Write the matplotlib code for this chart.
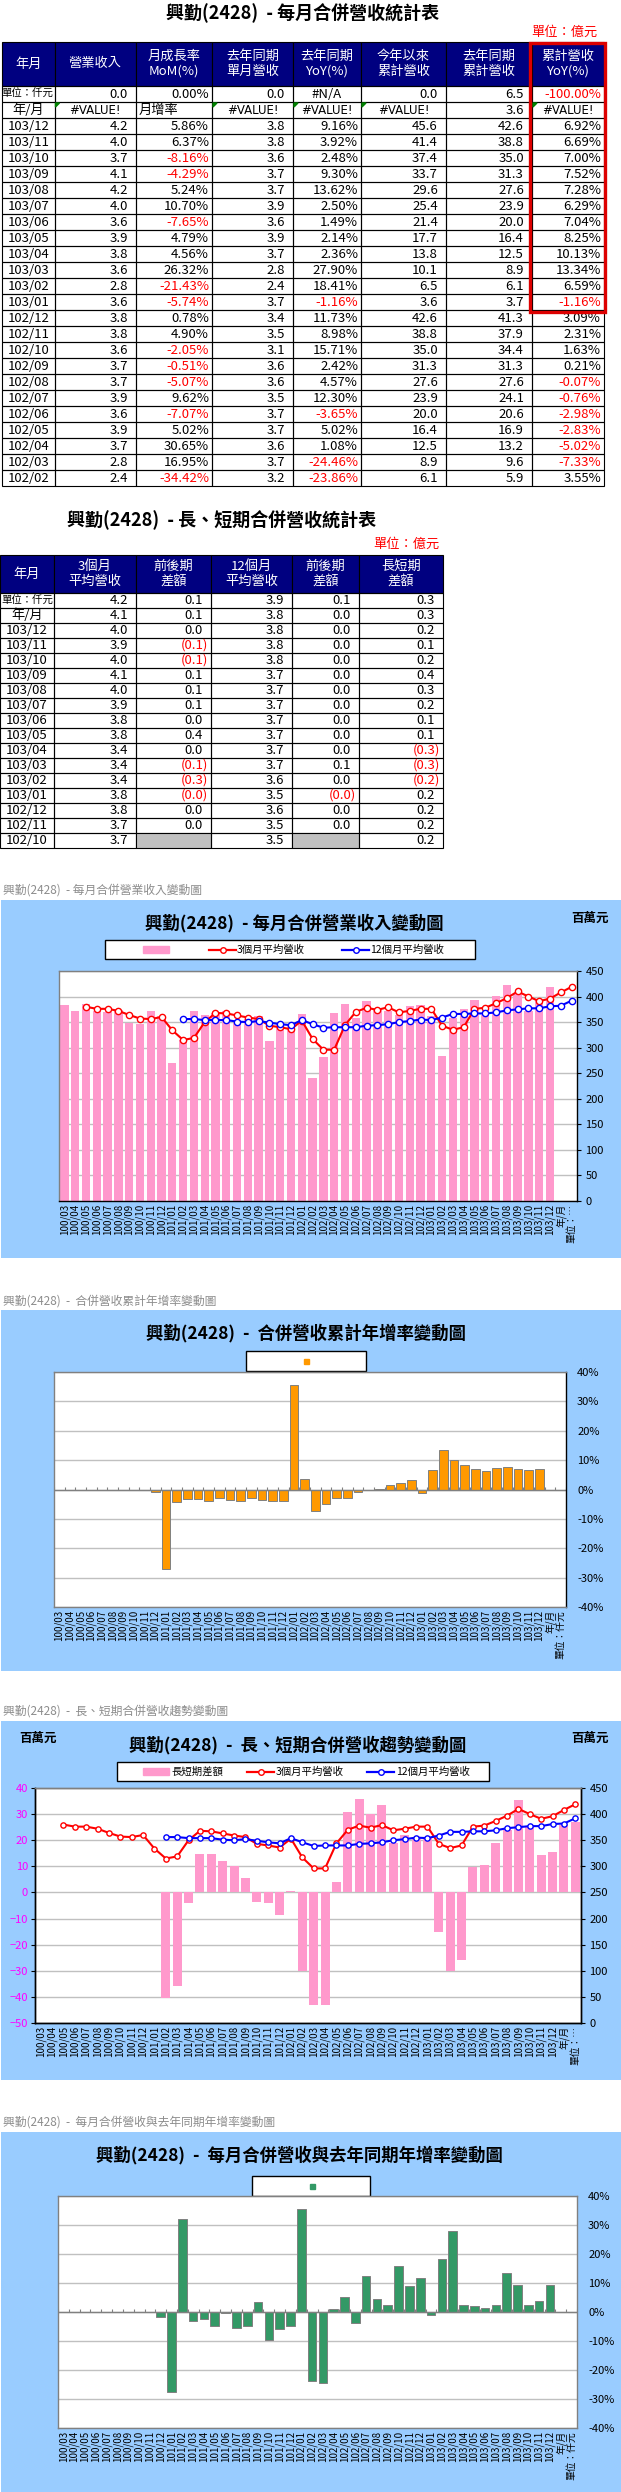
import matplotlib.pyplot as plt
from matplotlib.patches import Rectangle, Polygon
import numpy as np

plt.rcParams['font.family'] = ['Noto Sans CJK TC', 'DejaVu Sans']

# ---------------- data ----------------
months = ('100/03 100/04 100/05 100/06 100/07 100/08 100/09 100/10 100/11 100/12 '
          '101/01 101/02 101/03 101/04 101/05 101/06 101/07 101/08 101/09 101/10 101/11 101/12 '
          '102/01 102/02 102/03 102/04 102/05 102/06 102/07 102/08 102/09 102/10 102/11 102/12 '
          '103/01 103/02 103/03 103/04 103/05 103/06 103/07 103/08 103/09 103/10 103/11 103/12').split()

# monthly revenue (百萬元), 100/03 .. 103/12
revenue = [383, 371, 385, 372, 370, 374, 349, 347, 371, 361,
           270, 315, 372, 363, 367, 372, 349, 356, 362, 314, 349, 344,
           366, 240, 281, 367, 385, 358, 392, 373, 371, 363, 381, 384,
           362, 284, 359, 376, 394, 363, 402, 423, 405, 372, 396, 419]

# 3 / 12 month averages (48 categories incl. 年/月 and 單位)
avg3 = [None, None, 380, 376, 376, 372, 364, 357, 356, 360,
        334, 315, 319, 350, 368, 367, 363, 359, 356, 343, 340, 336,
        353, 317, 296, 296, 344, 370, 378, 374, 379, 369, 372, 376,
        376, 343, 335, 340, 376, 378, 387, 397, 410, 400, 391, 396, 408, 419]
avg12 = [None, None, None, None, None, None, None, None, None, None,
         None, 356, 356, 354, 354, 354, 351, 350, 352, 349, 346, 344,
         354, 346, 339, 340, 340, 340, 343, 344, 346, 350, 352, 355,
         354, 359, 366, 366, 367, 367, 369, 373, 375, 377, 377, 381, 382, 392]
long_short = [None, None, None, None, None, None, None, None, None, None,
              None, -40.5, -36, -4, 14.8, 14.8, 12, 10, 5.5, -3.7, -4, -8.7,
              0.5, -30, -43, -43, 4, 30.8, 35.8, 30, 33.5, 19, 22, 21,
              21, -15.3, -30, -26, 9.8, 10.5, 18.9, 24, 35.5, 25, 14.5, 15.5, 26, 27]

# cumulative YoY (%) and monthly YoY (%)
cum_yoy = [None, None, None, None, None, None, None, None, None, -0.8,
           -27, -4.2, -3.4, -3.4, -3.8, -3.0, -3.6, -3.8, -2.8, -3.5, -3.8, -3.8,
           35.5, 3.55, -7.33, -5.02, -2.83, -2.98, -0.76, -0.07, 0.21, 1.63, 2.31, 3.09,
           -1.16, 6.59, 13.34, 10.13, 8.25, 7.04, 6.29, 7.28, 7.52, 7.00, 6.69, 6.92, None, None]
mon_yoy = [None, None, None, None, None, None, None, None, None, -1.8,
           -27.5, 32, -3.0, -2.3, -4.8, -0.2, -5.5, -4.8, 3.6, -9.6, -5.8, -4.8,
           35.5, -23.86, -24.46, 1.08, 5.02, -3.65, 12.30, 4.57, 2.42, 15.71, 8.98, 11.73,
           -1.16, 18.41, 27.90, 2.36, 2.14, 1.49, 2.50, 13.62, 9.30, 2.48, 3.92, 9.16, None, None]

# table 1 (億元)
t1_months = ['103/12', '103/11', '103/10', '103/09', '103/08', '103/07', '103/06', '103/05',
             '103/04', '103/03', '103/02', '103/01', '102/12', '102/11', '102/10', '102/09',
             '102/08', '102/07', '102/06', '102/05', '102/04', '102/03', '102/02']
t1_rev = [4.2, 4.0, 3.7, 4.1, 4.2, 4.0, 3.6, 3.9, 3.8, 3.6, 2.8, 3.6, 3.8, 3.8, 3.6, 3.7,
          3.7, 3.9, 3.6, 3.9, 3.7, 2.8, 2.4]
t1_mom = [5.86, 6.37, -8.16, -4.29, 5.24, 10.70, -7.65, 4.79, 4.56, 26.32, -21.43, -5.74,
          0.78, 4.90, -2.05, -0.51, -5.07, 9.62, -7.07, 5.02, 30.65, 16.95, -34.42]
t1_ly = [3.8, 3.8, 3.6, 3.7, 3.7, 3.9, 3.6, 3.9, 3.7, 2.8, 2.4, 3.7, 3.4, 3.5, 3.1, 3.6,
         3.6, 3.5, 3.7, 3.7, 3.6, 3.7, 3.2]
t1_yoy = [9.16, 3.92, 2.48, 9.30, 13.62, 2.50, 1.49, 2.14, 2.36, 27.90, 18.41, -1.16,
          11.73, 8.98, 15.71, 2.42, 4.57, 12.30, -3.65, 5.02, 1.08, -24.46, -23.86]
t1_cum = [45.6, 41.4, 37.4, 33.7, 29.6, 25.4, 21.4, 17.7, 13.8, 10.1, 6.5, 3.6, 42.6, 38.8,
          35.0, 31.3, 27.6, 23.9, 20.0, 16.4, 12.5, 8.9, 6.1]
t1_lycum = [42.6, 38.8, 35.0, 31.3, 27.6, 23.9, 20.0, 16.4, 12.5, 8.9, 6.1, 3.7, 41.3, 37.9,
            34.4, 31.3, 27.6, 24.1, 20.6, 16.9, 13.2, 9.6, 5.9]
t1_cumyoy = [6.92, 6.69, 7.00, 7.52, 7.28, 6.29, 7.04, 8.25, 10.13, 13.34, 6.59, -1.16,
             3.09, 2.31, 1.63, 0.21, -0.07, -0.76, -2.98, -2.83, -5.02, -7.33, 3.55]
t1_row_unit = ['0.0', '0.00%', '0.0', '#N/A', '0.0', '6.5', '-100.00%']
t1_row_ym = ['#VALUE!', '月增率', '#VALUE!', '#VALUE!', '#VALUE!', '3.6', '#VALUE!']

# table 2 (億元)
t2_labels = ['單位：仟元', '年/月', '103/12', '103/11', '103/10', '103/09', '103/08', '103/07',
             '103/06', '103/05', '103/04', '103/03', '103/02', '103/01', '102/12', '102/11', '102/10']
t2_avg3 = [4.2, 4.1, 4.0, 3.9, 4.0, 4.1, 4.0, 3.9, 3.8, 3.8, 3.4, 3.4, 3.4, 3.8, 3.8, 3.7, 3.7]
t2_d3 = [0.1, 0.1, 0.0, -0.1, -0.1, 0.1, 0.1, 0.1, 0.0, 0.4, 0.0, -0.1, -0.3, -0.04, 0.0, 0.0, None]
t2_avg12 = [3.9, 3.8, 3.8, 3.8, 3.8, 3.7, 3.7, 3.7, 3.7, 3.7, 3.7, 3.7, 3.6, 3.5, 3.6, 3.5, 3.5]
t2_d12 = [0.1, 0.0, 0.0, 0.0, 0.0, 0.0, 0.0, 0.0, 0.0, 0.0, 0.0, 0.1, 0.0, -0.01, 0.0, 0.0, None]
t2_ls = [0.3, 0.3, 0.2, 0.1, 0.2, 0.4, 0.3, 0.2, 0.1, 0.1, -0.3, -0.3, -0.2, 0.2, 0.2, 0.2, 0.2]

# ---------------- figure ----------------
W, H = 621, 2492
NAVY = '#000080'
PANEL = '#99CCFF'
GRAY = '#808080'
FS = 9.5

fig = plt.figure(figsize=(W / 100, H / 100), dpi=100)
ax0 = fig.add_axes([0, 0, 1, 1])
ax0.set_xlim(0, W)
ax0.set_ylim(H, 0)
ax0.axis('off')


def rect(x0, y0, x1, y1):
    return [x0 / W, 1 - y1 / H, (x1 - x0) / W, (y1 - y0) / H]


def box(x0, y0, x1, y1, face='none', edge='black', lw=0.8):
    ax0.add_patch(Rectangle((x0, y0), x1 - x0, y1 - y0, facecolor=face, edgecolor=edge, lw=lw))


def put(x0, x1, yc, s, align, pad=8, color='black', fs=FS):
    if align == 'c':
        ax0.text((x0 + x1) / 2, yc, s, ha='center', va='center', color=color, fontsize=fs)
    elif align == 'l':
        ax0.text(x0 + 3, yc, s, ha='left', va='center', color=color, fontsize=fs)
    else:
        ax0.text(x1 - pad, yc, s, ha='right', va='center', color=color, fontsize=fs)


# ---------------- table 1 ----------------
ax0.text(303, 13, '興勤(2428)  - 每月合併營收統計表', ha='center', va='center',
         fontsize=13, fontweight='bold')
ax0.text(598, 32, '單位：億元', ha='right', va='center', color='red', fontsize=9.5)

t1_x = [2, 54.5, 136, 212, 293, 361, 446, 532, 604]
headers1 = ['年月', '營業收入', '月成長率\nMoM(%)', '去年同期\n單月營收', '去年同期\nYoY(%)',
            '今年以來\n累計營收', '去年同期\n累計營收', '累計營收\nYoY(%)']
kinds1 = ['n', 'p', 'n', 'p', 'n', 'n', 'p']
for j, h in enumerate(headers1):
    box(t1_x[j], 42, t1_x[j + 1], 86, face=NAVY)
    ax0.text((t1_x[j] + t1_x[j + 1]) / 2, 64, h, ha='center', va='center', color='white',
             fontsize=9.5, linespacing=1.15)

rh = 16
y = 86
# unit row
for j in range(8):
    box(t1_x[j], y, t1_x[j + 1], y + rh)
ax0.text(t1_x[1] - 1, y + rh / 2, '單位：仟元', ha='right', va='center', fontsize=7.5)
aligns_unit = ['r', 'r', 'r', 'c', 'r', 'r', 'r']
for j, s in enumerate(t1_row_unit):
    col = 'red' if s.startswith('-') else 'black'
    put(t1_x[j + 1], t1_x[j + 2], y + rh / 2, s, aligns_unit[j],
        pad=3 if kinds1[j] == 'p' else 8, color=col)
y += rh
# 年/月 row
for j in range(8):
    box(t1_x[j], y, t1_x[j + 1], y + rh)
put(t1_x[0], t1_x[1], y + rh / 2, '年/月', 'c')
aligns_ym = ['c', 'l', 'c', 'c', 'c', 'r', 'c']
for j, s in enumerate(t1_row_ym):
    ax_fam = ['DejaVu Sans', 'Noto Sans CJK TC']
    if aligns_ym[j] == 'c':
        ax0.text((t1_x[j + 1] + t1_x[j + 2]) / 2, y + rh / 2, s, ha='center', va='center',
                 fontsize=8.5, family=ax_fam)
    else:
        put(t1_x[j + 1], t1_x[j + 2], y + rh / 2, s, aligns_ym[j])
for j in [1, 3, 4, 5, 7]:
    xg = t1_x[j]
    ax0.add_patch(Polygon([(xg + 1, y + 1), (xg + 5, y + 1), (xg + 1, y + 5)], color='#008000'))
y += rh
cols1 = [t1_rev, t1_mom, t1_ly, t1_yoy, t1_cum, t1_lycum, t1_cumyoy]
for i, m in enumerate(t1_months):
    for j in range(8):
        box(t1_x[j], y, t1_x[j + 1], y + rh)
    put(t1_x[0], t1_x[1], y + rh / 2, m, 'c')
    for j, col in enumerate(cols1):
        v = col[i]
        if kinds1[j] == 'p':
            s = f'{v:.2f}%'
            put(t1_x[j + 1], t1_x[j + 2], y + rh / 2, s, 'r', pad=3,
                color='red' if v < 0 else 'black')
        else:
            put(t1_x[j + 1], t1_x[j + 2], y + rh / 2, f'{v:.1f}', 'r', pad=8)
    y += rh
# red highlight box
ax0.add_patch(Rectangle((530, 43), 75, 269, fill=False, edgecolor='#DD0000', lw=2.4, zorder=5))

# ---------------- table 2 ----------------
ax0.text(222, 520, '興勤(2428)  - 長、短期合併營收統計表', ha='center', va='center',
         fontsize=13, fontweight='bold')
ax0.text(440, 544, '單位：億元', ha='right', va='center', color='red', fontsize=9.5)
t2_x = [0, 54, 136, 211, 292, 359, 443]
headers2 = ['年月', '3個月\n平均營收', '前後期\n差額', '12個月\n平均營收', '前後期\n差額', '長短期\n差額']
for j, h in enumerate(headers2):
    box(t2_x[j], 555, t2_x[j + 1], 593, face=NAVY)
    ax0.text((t2_x[j] + t2_x[j + 1]) / 2, 574, h, ha='center', va='center', color='white',
             fontsize=9.5, linespacing=1.15)


def acct(v):
    if v < 0:
        return f'({abs(v):.1f})', 'red', 3
    return f'{v:.1f}', 'black', 8


rh2 = 15
y = 593
for i, lab in enumerate(t2_labels):
    for j in range(6):
        face = 'none'
        if j in (2, 4) and [t2_d3, t2_d12][j // 2 - 1][i] is None:
            face = '#C0C0C0'
        box(t2_x[j], y, t2_x[j + 1], y + rh2, face=face)
    yc = y + rh2 / 2
    if i == 0:
        ax0.text(t2_x[1] - 1, yc, lab, ha='right', va='center', fontsize=7.5)
    else:
        put(t2_x[0], t2_x[1], yc, lab, 'c')
    for j, col in enumerate([t2_avg3, t2_d3, t2_avg12, t2_d12, t2_ls]):
        v = col[i]
        if v is None:
            continue
        s, c, p = acct(v)
        put(t2_x[j + 1], t2_x[j + 2], yc, s, 'r', pad=p, color=c)
    y += rh2

# ---------------- common chart helpers ----------------
x = np.arange(48)
cats_a = months + ['年/月', '單位：…']
cats_b = months + ['年/月', '單位：仟元']


def caption(yc, s):
    ax0.text(3, yc, s, ha='left', va='center', fontsize=8.5, color='#8c8c8c')


def spines(ax, left, right, top, bottom):
    for k, c in zip(['left', 'right', 'top', 'bottom'], [left, right, top, bottom]):
        ax.spines[k].set_color(c)
        ax.spines[k].set_linewidth(1.0)


def cat_axis(ax, labels):
    ax.set_xlim(-0.5, 47.5)
    ax.set_xticks(x)
    ax.set_xticklabels(labels, rotation=90, fontsize=7)
    ax.tick_params(axis='x', length=0, pad=2)


def line_legend(x0, yc, color):
    ax0.plot([x0, x0 + 27], [yc, yc], color=color, lw=1.6)
    ax0.plot([x0 + 13.5], [yc], marker='o', ms=4, mfc='white', mec=color, mew=1)


def arr(v):
    return np.array(v, dtype=float)


# ---------------- chart 1 ----------------
caption(890, '興勤(2428)  - 每月合併營業收入變動圖')
box(1, 900, 621, 1258, face=PANEL, edge='none', lw=0)
ax0.text(294, 923, '興勤(2428)  - 每月合併營業收入變動圖', ha='center', va='center',
         fontsize=12.5, fontweight='bold')
ax0.text(590, 918, '百萬元', ha='center', va='center', fontsize=9, fontweight='bold')
box(105, 940, 475, 959, face='white', edge='black', lw=1)
ax0.add_patch(Rectangle((143, 946), 26, 7, color='#FF99CC'))
line_legend(209, 949.5, 'red')
ax0.text(237, 949.5, '3個月平均營收', ha='left', va='center', fontsize=7.5)
line_legend(342, 949.5, 'blue')
ax0.text(370, 949.5, '12個月平均營收', ha='left', va='center', fontsize=7.5)

ax1 = fig.add_axes(rect(59, 971, 577, 1201), zorder=2)
ax1.bar(x[:46], revenue, width=0.77, color='#FF99CC')
ax1.plot(x, arr(avg3), color='red', lw=1.5, marker='o', ms=4.5, mfc='white', mec='red', mew=1)
ax1.plot(x, arr(avg12), color='blue', lw=1.5, marker='o', ms=4.5, mfc='white', mec='blue', mew=1)
ax1.set_ylim(0, 450)
ax1.yaxis.tick_right()
ax1.set_yticks(range(0, 451, 50))
ax1.tick_params(axis='y', labelsize=8, length=3, pad=3)
ax1.set_axisbelow(True)
ax1.grid(axis='y', color='#C0C0C0', lw=1)
cat_axis(ax1, cats_a)
spines(ax1, GRAY, 'black', GRAY, 'black')

# ---------------- chart 2 ----------------
caption(1301, '興勤(2428)  -  合併營收累計年增率變動圖')
box(1, 1310, 621, 1671, face=PANEL, edge='none', lw=0)
ax0.text(306, 1333, '興勤(2428)  -  合併營收累計年增率變動圖', ha='center', va='center',
         fontsize=12.5, fontweight='bold')
box(246, 1351, 366, 1371, face='white', edge='black', lw=1)
ax0.add_patch(Rectangle((303.5, 1358.5), 5, 5, color='#FF9900'))

ax2 = fig.add_axes(rect(54, 1372, 566, 1607), zorder=2)
cy = arr(cum_yoy)
m2 = ~np.isnan(cy)
ax2.bar(x[m2], cy[m2], width=0.8, color='#FF9900', edgecolor=GRAY, lw=0.7)
ax2.set_ylim(-40, 40)
ax2.yaxis.tick_right()
ax2.set_yticks(range(-40, 41, 10))
ax2.set_yticklabels([f'{t}%' for t in range(-40, 41, 10)])
ax2.tick_params(axis='y', labelsize=8, length=0, pad=8)
ax2.set_axisbelow(True)
ax2.grid(axis='y', color='#C0C0C0', lw=1)
ax2.axhline(0, color=GRAY, lw=1)
ax2.vlines(np.arange(49) - 0.5, 0, 1.0, color=GRAY, lw=0.8)
cat_axis(ax2, cats_b)
spines(ax2, GRAY, 'black', GRAY, GRAY)

# ---------------- chart 3 ----------------
caption(1711, '興勤(2428)  -  長、短期合併營收趨勢變動圖')
box(1, 1721, 621, 2080, face=PANEL, edge='none', lw=0)
ax0.text(298, 1745, '興勤(2428)  -  長、短期合併營收趨勢變動圖', ha='center', va='center',
         fontsize=12.5, fontweight='bold')
ax0.text(38, 1738, '百萬元', ha='center', va='center', fontsize=9, fontweight='bold')
ax0.text(590, 1738, '百萬元', ha='center', va='center', fontsize=9, fontweight='bold')
box(117, 1762, 489, 1781, face='white', edge='black', lw=1)
ax0.add_patch(Rectangle((143, 1768), 26, 7, color='#FF99CC'))
ax0.text(171, 1771.5, '長短期差額', ha='left', va='center', fontsize=7.5)
line_legend(247, 1771.5, 'red')
ax0.text(276, 1771.5, '3個月平均營收', ha='left', va='center', fontsize=7.5)
line_legend(367, 1771.5, 'blue')
ax0.text(396, 1771.5, '12個月平均營收', ha='left', va='center', fontsize=7.5)

ax3 = fig.add_axes(rect(35, 1788, 581, 2023), zorder=2)
ls = arr(long_short)
m3 = ~np.isnan(ls)
ax3.bar(x[m3], ls[m3], width=0.8, color='#FF99CC')
ax3.set_ylim(-50, 40)
ax3.set_yticks(range(-50, 41, 10))
ax3.tick_params(axis='y', labelsize=8, labelcolor='#FF00FF', length=3, pad=2)
ax3.set_axisbelow(True)
ax3.grid(axis='y', color='#C0C0C0', lw=1)
cat_axis(ax3, cats_a)
ax3r = ax3.twinx()
ax3r.plot(x, arr(avg3), color='red', lw=1.5, marker='o', ms=3.8, mfc='white', mec='red', mew=1)
ax3r.plot(x, arr(avg12), color='blue', lw=1.5, marker='o', ms=3.8, mfc='white', mec='blue', mew=1)
ax3r.set_ylim(0, 450)
ax3r.set_yticks(range(0, 451, 50))
ax3r.tick_params(axis='y', labelsize=8, length=3, pad=3)
for a in (ax3, ax3r):
    spines(a, 'black', 'black', GRAY, 'black')

# ---------------- chart 4 ----------------
caption(2122, '興勤(2428)  -  每月合併營收與去年同期年增率變動圖')
box(1, 2132, 621, 2492, face=PANEL, edge='none', lw=0)
ax0.text(299, 2155, '興勤(2428)  -  每月合併營收與去年同期年增率變動圖', ha='center', va='center',
         fontsize=12.5, fontweight='bold')
box(252, 2176, 370, 2196, face='white', edge='black', lw=1)
ax0.add_patch(Rectangle((309.5, 2183.5), 5, 5, color='#339966'))

ax4 = fig.add_axes(rect(58, 2196, 577, 2428), zorder=2)
my = arr(mon_yoy)
m4 = ~np.isnan(my)
ax4.bar(x[m4], my[m4], width=0.8, color='#339966', edgecolor=GRAY, lw=0.7)
ax4.set_ylim(-40, 40)
ax4.yaxis.tick_right()
ax4.set_yticks(range(-40, 41, 10))
ax4.set_yticklabels([f'{t}%' for t in range(-40, 41, 10)])
ax4.tick_params(axis='y', labelsize=8, length=0, pad=8)
ax4.set_axisbelow(True)
ax4.grid(axis='y', color='#C0C0C0', lw=1)
ax4.axhline(0, color=GRAY, lw=1)
ax4.vlines(np.arange(49) - 0.5, 0, 1.0, color=GRAY, lw=0.8)
cat_axis(ax4, cats_b)
spines(ax4, GRAY, GRAY, GRAY, GRAY)

fig.savefig('out.png', dpi=100)
